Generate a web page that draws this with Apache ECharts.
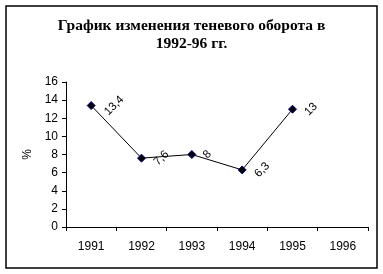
<!DOCTYPE html>
<html><head><meta charset="utf-8">
<script src="https://cdn.jsdelivr.net/npm/echarts@6/dist/echarts.min.js"></script>
<style>html,body{margin:0;padding:0;background:#fff}#c{width:383px;height:274px}</style>
</head><body><div id="c"></div>
<script>
var titleText = 'График изменения теневого оборота в\n1992-96 гг.';
var years = ['1991','1992','1993','1994','1995','1996'];
var values = [13.4, 7.6, 8, 6.3, 13, null];
var yAxisName = '%';

function fmt(v){ return String(v).replace('.', ','); }
function textW(s){ var w=0; for (var i=0;i<s.length;i++){ w += s[i]===',' ? 3 : 6; } return w; }

var seriesData = values.map(function(v){
  if (v === null) return null;
  var s = fmt(v);
  return { value: v, label: { distance: 8 + 0.5*textW(s) } };
});

var chart = echarts.init(document.getElementById('c'), null, {renderer:'canvas'});
chart.setOption({
  animation: false,
  backgroundColor: '#fff',
  title: {
    text: titleText, left: 'center', top: 12,
    textStyle: { fontFamily: 'Liberation Serif', fontWeight: 'bold', fontSize: 15.5, lineHeight: 18, color: '#000' }
  },
  graphic: [{ type: 'rect', shape: { x: 6, y: 6, width: 371, height: 262 }, style: { fill: 'none', stroke: '#000', lineWidth: 1.5 }, silent: true }],
  grid: { left: 66, right: 15, top: 82, bottom: 47 },
  xAxis: {
    type: 'category', data: years, boundaryGap: true,
    axisLine: { lineStyle: { color: '#000', width: 1 } },
    axisTick: { show: true, length: 4, lineStyle: { color: '#000' } },
    axisLabel: { color: '#000', fontFamily: 'Liberation Sans', fontSize: 12, margin: 14 },
    splitLine: { show: false }
  },
  yAxis: {
    type: 'value', min: 0, max: 16, interval: 2,
    name: yAxisName, nameLocation: 'middle', nameGap: 32, nameRotate: 90,
    nameTextStyle: { color: '#000', fontFamily: 'Liberation Sans', fontSize: 12 },
    axisLine: { show: true, lineStyle: { color: '#000', width: 1 } },
    axisTick: { show: true, length: 4, lineStyle: { color: '#000' } },
    axisLabel: { color: '#000', fontFamily: 'Liberation Sans', fontSize: 12, margin: 8 },
    splitLine: { show: false }
  },
  series: [{
    type: 'line', data: seriesData, connectNulls: false,
    symbol: 'diamond', symbolSize: 8,
    itemStyle: { color: '#000', borderColor: '#000080', borderWidth: 1 },
    lineStyle: { color: '#000', width: 1 },
    label: {
      show: true, position: 'right', rotate: 45, align: 'center', verticalAlign: 'middle',
      color: '#000', fontFamily: 'Liberation Sans', fontSize: 11.5,
      formatter: function(p){ return fmt(p.value); }
    }
  }]
});
</script></body></html>
